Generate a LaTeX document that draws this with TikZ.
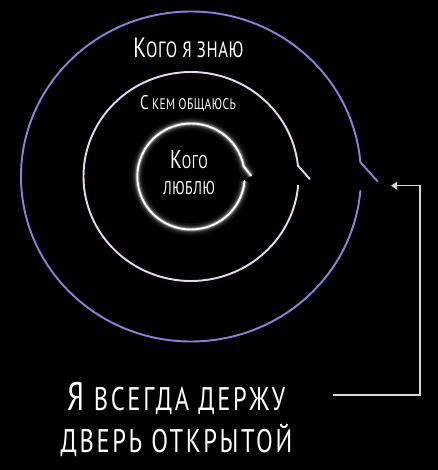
\documentclass[tikz,border=0pt]{standalone}
\usepackage{fontspec}
\usepackage{xcolor}
\usetikzlibrary{arrows.meta}
\newfontfamily\capfont[FakeStretch=0.75, LetterSpace=3]{PT Sans}
\newfontfamily\mottofont[FakeStretch=0.75, LetterSpace=8]{PT Sans}
\definecolor{ringPurple}{RGB}{145,125,215}
\definecolor{ringPink}{RGB}{232,215,240}
\definecolor{arrowGray}{RGB}{215,215,215}
% big first letter, rest as small capitals
\newcommand\scword[4]{{\fontsize{#1}{#1}\selectfont #3}{\fontsize{#2}{#2}\selectfont\MakeUppercase{#4}}}

\begin{document}
\begin{tikzpicture}[x=0.02cm, y=0.02cm,
    ring/.style={line width=1.1pt, line join=round, line cap=round},
    innerglow/.style={preaction={draw=white, line width=7pt, draw opacity=0.05},
                      preaction={draw=white, line width=5pt, draw opacity=0.08},
                      preaction={draw=white, line width=3.4pt, draw opacity=0.14},
                      preaction={draw=white, line width=2.2pt, draw opacity=0.25}},
    ringlabel/.style={text=white, font=\capfont, inner sep=0pt}]
    \fill[black] (0,0) rectangle (438,470);
    \coordinate (c) at (191,293.5);
    \coordinate (outerdoor) at ([shift={(5:170 and 165)}]c);
    \coordinate (middledoor) at ([shift={(6:107.5 and 104.5)}]c);
    \coordinate (innerdoor) at ([shift={(11:53.7 and 53)}]c);
    % rings with open doors
    \draw[ring, ringPurple] ([shift={(17,-19)}]outerdoor) -- (outerdoor)
        arc[start angle=5, end angle=355, x radius=170, y radius=165];
    \draw[ring, ringPink] ([shift={(11.7,-13.3)}]middledoor) -- (middledoor)
        arc[start angle=6, end angle=355, x radius=107.5, y radius=104.5];
    \draw[ring, white, innerglow] ([shift={(7.3,-9.3)}]innerdoor) -- (innerdoor)
        arc[start angle=11, end angle=355, x radius=53.7, y radius=53];
    % labels
    \node[ringlabel, anchor=base] (know) at (188.5,412.7) {\scword{15.9pt}{12.6pt}{К}{ого я знаю}};
    \node[ringlabel, anchor=base] (talk) at (188,360) {\scword{11.3pt}{8.7pt}{С}{ кем общаюсь}};
    \node[ringlabel, anchor=base, align=center, font=\capfont\fontsize{10.5pt}{14.9pt}\selectfont] (love) at (189,275.7)
        {\scword{14.6pt}{10.5pt}{К}{ого}\\\scword{10.5pt}{10.5pt}{}{люблю}};
    \node[ringlabel, anchor=base, align=center, font=\mottofont\fontsize{18.6pt}{24.4pt}\selectfont] (motto) at (176.5,17)
        {\scword{22.7pt}{18.6pt}{Я}{ всегда держу}\\\scword{18.6pt}{18.6pt}{}{дверь открытой}};
    % arrow to the open door
    \coordinate (arrowstart) at (333,75);
    \coordinate (arrowbend) at (420,284.3);
    \coordinate (arrowtip) at (391,284.3);
    \draw[arrowGray, line width=0.8pt, -{Triangle[length=3.5pt, width=4.5pt]}] (arrowstart) -| (arrowbend) -- (arrowtip);
\end{tikzpicture}
\end{document}
